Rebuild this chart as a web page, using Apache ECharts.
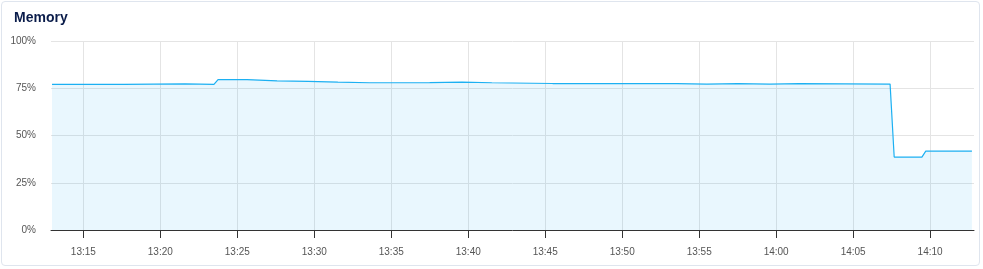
<!DOCTYPE html>
<html>
<head>
<meta charset="utf-8">
<script src="https://cdn.jsdelivr.net/npm/echarts@6/dist/echarts.min.js"></script>
<style>
html,body{margin:0;padding:0;background:#fff;}
#card{position:absolute;left:1px;top:1px;width:979px;height:265px;border:1px solid #dfe5ee;border-radius:4px;box-sizing:border-box;}
#chart{position:absolute;left:0;top:0;width:983px;height:269px;}
</style>
</head>
<body>
<div id="card"></div>
<div id="chart"></div>
<script>
var times = ['13:12:58','13:17:38','13:17:43','13:21:36','13:21:40','13:23:29','13:23:45','13:25:38',
  '13:25:42','13:27:35','13:27:38','13:29:36','13:29:40','13:31:32','13:31:36','13:33:36',
  '13:33:40','13:37:30','13:37:34','13:39:36','13:39:40','13:41:32','13:41:36','13:45:29',
  '13:45:33','13:53:33','13:53:37','13:55:30','13:55:34','13:57:30','13:57:34','13:59:35',
  '13:59:39','14:01:30','14:01:34','14:07:24','14:07:40','14:09:28','14:09:43','14:12:43'];
var memPct = [77.0,77.0,77.3,77.3,77.0,77.0,79.6,79.6,
  78.9,78.9,78.6,78.6,78.2,78.2,77.9,77.9,
  78.0,78.0,78.2,78.2,77.9,77.9,77.5,77.5,
  77.4,77.4,77.2,77.2,77.4,77.4,77.2,77.2,
  77.4,77.4,77.2,77.2,38.6,38.6,41.7,41.7];
var axisStart = '13:12:54', axisEnd = '14:12:51';
var xTickLabels = ['13:15','13:20','13:25','13:30','13:35','13:40','13:45','13:50','13:55','14:00','14:05','14:10'];
var yTicks = [0, 25, 50, 75, 100];

function ts(s){
  var p = s.split(':').map(Number);
  return Date.UTC(2024, 4, 14, p[0], p[1], p[2] || 0);
}
function fmt(v){
  var d = new Date(v);
  var h = d.getUTCHours(), m = d.getUTCMinutes();
  return (h < 10 ? '0' : '') + h + ':' + (m < 10 ? '0' : '') + m;
}
var data = times.map(function(t, i){ return [ts(t), memPct[i]]; });
var xTickVals = xTickLabels.map(function(t){ return ts(t); });

var chart = echarts.init(document.getElementById('chart'));
chart.setOption({
  animation: false,
  title: {text: 'Memory', left: 9, top: 6, textStyle: {fontFamily: 'Liberation Sans, Arial', fontSize: 14, fontWeight: 'bold', color: '#0a1c4a'}},
  grid: {left: 51, right: 9, top: 41, bottom: 39, containLabel: false},
  xAxis: {
    type: 'value',
    min: ts(axisStart), max: ts(axisEnd),
    axisLine: {lineStyle: {color: '#333', width: 1}},
    axisTick: {show: true, length: 8, lineStyle: {color: '#333'}, customValues: xTickVals},
    axisLabel: {margin: 17, fontSize: 10, color: '#555', fontFamily: 'Liberation Sans, Arial',
      customValues: xTickVals, formatter: function(v){ return fmt(v); }},
    splitLine: {show: true, lineStyle: {color: '#e4e4e4', width: 1}, customValues: xTickVals}
  },
  yAxis: {
    type: 'value', min: yTicks[0], max: yTicks[yTicks.length-1], interval: 25,
    axisLine: {show: false}, axisTick: {show: false},
    axisLabel: {margin: 15, fontSize: 10, color: '#555', fontFamily: 'Liberation Sans, Arial', formatter: '{value}%', padding: [4,0,0,0]},
    splitLine: {lineStyle: {color: '#e4e4e4', width: 1}}
  },
  series: [{
    type: 'line', data: data, showSymbol: false, symbol: 'none',
    lineStyle: {color: '#1cb0f2', width: 1.2},
    itemStyle: {color: '#1cb0f2'},
    areaStyle: {color: 'rgba(0,168,240,0.12)'}
  }]
});
</script>
</body>
</html>
